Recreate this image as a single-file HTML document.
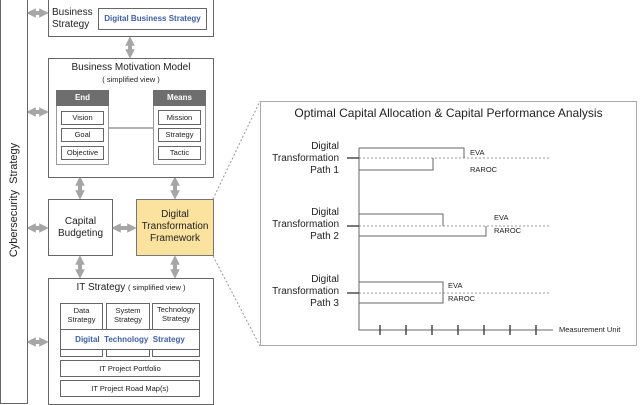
<!DOCTYPE html>
<html><head><style>
body{margin:0;width:640px;height:403px;background:#fff;position:relative;overflow:hidden;font-family:"Liberation Sans",sans-serif;color:#222}
.b{position:absolute;border:1.5px solid #666;box-sizing:border-box;background:#fff}
.t{position:absolute;font-size:10px;text-align:center;line-height:12px}
.s{font-size:7.5px;line-height:9px}
</style></head><body>
<svg width="640" height="403" style="position:absolute;left:0;top:0">
<defs><marker id="a" viewBox="0 0 6 6" refX="3" refY="3" markerWidth="2.4" markerHeight="2.4" orient="auto-start-reverse"><path d="M0,0L6,3L0,6z" fill="#a6a6a6"/></marker></defs>
<g stroke="#a6a6a6" stroke-width="4" marker-start="url(#a)" marker-end="url(#a)">
<line x1="31" y1="13" x2="44" y2="13"/><line x1="31" y1="112" x2="44" y2="112"/><line x1="31" y1="228" x2="44" y2="228"/><line x1="31" y1="342" x2="44" y2="342"/>
<line x1="116" y1="228" x2="132" y2="228"/>
<line x1="130" y1="41" x2="130" y2="54"/>
<line x1="80" y1="181" x2="80" y2="195"/><line x1="175" y1="181" x2="175" y2="195"/>
<line x1="80" y1="260" x2="80" y2="274"/><line x1="175" y1="260" x2="175" y2="274"/>
</g>
<g stroke="#999" stroke-dasharray="2,2" stroke-width="1"><line x1="213" y1="199" x2="260" y2="101"/><line x1="213" y1="256" x2="260" y2="346"/></g>
</svg>
<div class="b" style="left:0;top:-2px;width:28px;height:406px"></div>
<div class="t" style="left:-86px;top:194px;width:200px;transform:rotate(-90deg);font-size:11px">Cybersecurity &nbsp;Strategy</div>

<div class="b" style="left:48px;top:-2px;width:166px;height:39px"></div>
<div class="t" style="left:52px;top:7px;text-align:left">Business<br>Strategy</div>
<div class="b" style="left:98px;top:8px;width:109px;height:22px;border-width:1px"></div>
<div class="t" style="left:98px;top:13px;width:109px;font-size:8px;color:#3f5fa8;font-weight:bold">Digital Business Strategy</div>

<div class="b" style="left:48px;top:58px;width:166px;height:120px"></div>
<div class="t" style="left:48px;top:62px;width:166px">Business Motivation Model</div>
<div class="t s" style="left:48px;top:75px;width:166px">( simplified view )</div>
<svg width="640" height="403" style="position:absolute;left:0;top:0"><line x1="109" y1="128" x2="153" y2="128" stroke="#666"/></svg>
<div class="b" style="left:56px;top:90px;width:53px;height:75px;border-width:1px;border-color:#999"></div>
<div style="position:absolute;left:56px;top:90px;width:53px;height:16px;background:#6e6e6e;color:#fff;font-size:8px;font-weight:bold;text-align:center;line-height:16px">End</div>
<div class="b" style="left:153px;top:90px;width:53px;height:75px;border-width:1px;border-color:#999"></div>
<div style="position:absolute;left:153px;top:90px;width:53px;height:16px;background:#6e6e6e;color:#fff;font-size:8px;font-weight:bold;text-align:center;line-height:16px">Means</div>
<div class="b t s" style="left:61px;top:111px;width:43px;height:14px;line-height:12px;border-width:1px">Vision</div>
<div class="b t s" style="left:61px;top:128px;width:43px;height:14px;line-height:12px;border-width:1px">Goal</div>
<div class="b t s" style="left:61px;top:146px;width:43px;height:14px;line-height:12px;border-width:1px">Objective</div>
<div class="b t s" style="left:158px;top:110px;width:43px;height:15px;line-height:13px;border-width:1px">Mission</div>
<div class="b t s" style="left:158px;top:128px;width:43px;height:14px;line-height:12px;border-width:1px">Strategy</div>
<div class="b t s" style="left:158px;top:146px;width:43px;height:14px;line-height:12px;border-width:1px">Tactic</div>

<div class="b" style="left:48px;top:199px;width:65px;height:57px"></div>
<div class="t" style="left:48px;top:216px;width:65px">Capital<br>Budgeting</div>
<div class="b" style="left:136px;top:199px;width:78px;height:57px;background:#fbe29f;border-color:#777"></div>
<div class="t" style="left:136px;top:209px;width:78px">Digital<br>Transformation<br>Framework</div>

<div class="b" style="left:48px;top:278px;width:166px;height:127px"></div>
<div class="t" style="left:48px;top:282px;width:166px">IT Strategy <span class="s">( simplified view )</span></div>
<div class="b t s" style="left:60px;top:303px;width:43px;height:54px;border-width:1px;padding-top:2px">Data<br>Strategy</div>
<div class="b t s" style="left:106px;top:303px;width:44px;height:54px;border-width:1px;padding-top:2px">System<br>Strategy</div>
<div class="b t s" style="left:152px;top:303px;width:48px;height:54px;border-width:1px;padding-top:1px">Technology<br>Strategy</div>
<div class="b t" style="left:60px;top:329px;width:140px;height:21px;border-width:1px;font-size:8px;font-weight:bold;color:#3f5fa8;line-height:19px">Digital &nbsp;Technology &nbsp;Strategy</div>
<div class="b t s" style="left:60px;top:360px;width:140px;height:17px;border-width:1px;line-height:15px">IT Project Portfolio</div>
<div class="b t s" style="left:60px;top:380px;width:140px;height:17px;border-width:1px;line-height:15px">IT Project Road Map(s)</div>

<div class="b" style="left:260px;top:101px;width:377px;height:245px;border-width:1px;border-color:#aaa"></div>
<div class="t" style="left:260px;top:106px;width:377px;font-size:12px;line-height:14px">Optimal Capital Allocation &amp; Capital Performance Analysis</div>
<svg width="640" height="403" style="position:absolute;left:0;top:0">
<g stroke="#999" stroke-dasharray="2,2"><line x1="359" y1="158" x2="551" y2="158"/><line x1="359" y1="226" x2="551" y2="226"/><line x1="359" y1="293" x2="551" y2="293"/></g>
<g fill="none" stroke="#666" stroke-width="1">
<path d="M359 148H464V158M359 170H433V158"/>
<path d="M359 214H443V226M359 236H486V226"/>
<path d="M359 282H443V303H359"/>
<path d="M359 148V330H553"/>
</g>
<g stroke="#333" stroke-width="1.3"><line x1="347" y1="158" x2="359" y2="158"/><line x1="347" y1="226" x2="359" y2="226"/><line x1="347" y1="293" x2="359" y2="293"/>
<path d="M380 325v10M406 325v10M432 325v10M458 325v10M484 325v10M510 325v10M536 325v10"/></g>
</svg>
<div class="t" style="left:250px;top:141px;width:89px;text-align:right;font-size:10px">Digital<br>Transformation<br>Path 1</div>
<div class="t" style="left:250px;top:207px;width:89px;text-align:right;font-size:10px">Digital<br>Transformation<br>Path 2</div>
<div class="t" style="left:250px;top:274px;width:89px;text-align:right;font-size:10px">Digital<br>Transformation<br>Path 3</div>
<div class="t s" style="left:470px;top:148px">EVA</div>
<div class="t s" style="left:470px;top:165px">RAROC</div>
<div class="t s" style="left:494px;top:213px">EVA</div>
<div class="t s" style="left:494px;top:226px">RAROC</div>
<div class="t s" style="left:448px;top:281px">EVA</div>
<div class="t s" style="left:448px;top:294px">RAROC</div>
<div class="t s" style="left:559px;top:325px">Measurement Unit</div>
</body></html>
